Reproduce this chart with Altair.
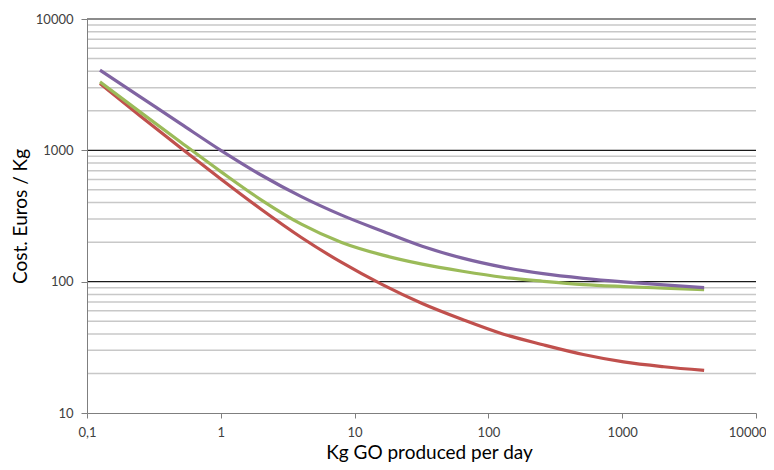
import altair as alt
import pandas as pd

# x positions (Kg GO produced per day)
x_vals = [0.125, 0.25, 0.5, 1, 2, 4, 8, 16, 32, 64, 128, 256, 512, 1024, 2048, 4096]

purple_vals = [4083, 2553, 1596, 1000, 649, 444, 321, 243, 186, 151, 129, 115, 106, 99.5, 94.4, 90.2]
green_vals = [3320, 1955, 1156, 689, 420, 274, 199, 160, 136, 120, 108, 100.7, 95, 91.8, 89.3, 87]
red_vals = [3230, 1828, 1045, 605, 356, 217, 140, 95.3, 68.2, 51.5, 40, 33.1, 27.9, 24.5, 22.5, 21.1]

x_ticks = [0.1, 1, 10, 100, 1000, 10000]
y_ticks = [10, 100, 1000, 10000]
major_grid = [100, 1000, 10000]
minor_grid = [m * d for d in (10, 100, 1000) for m in range(2, 10)]

series_colors = {"purple": "#8064A2", "green": "#9BBB59", "red": "#C0504D"}

FONT = "Lato"

xscale = alt.Scale(type="log", domain=[0.1, 10000], nice=False)
yscale = alt.Scale(type="log", domain=[10, 10000], nice=False)

x_axis = alt.Axis(
    values=x_ticks,
    labelExpr="replace(format(datum.value, '~f'), '.', ',')",
    grid=False,
    domainColor="#7f7f7f",
    tickColor="#7f7f7f",
    tickSize=5,
    labelPadding=8,
    labelFont=FONT,
    labelFontSize=13,
    labelColor="#404040",
    labelAlign={"condition": {"test": "datum.value == 10000", "value": "right"}, "value": "center"},
    labelOffset={"condition": {"test": "datum.value == 10000", "value": 10}, "value": 0},
    title="Kg GO produced per day",
    titleFont=FONT,
    titleFontSize=19,
    titleFontWeight="normal",
    titleColor="#000000",
    titlePadding=4,
    titleX=342,
    zindex=1,
)
y_axis = alt.Axis(
    values=y_ticks,
    format="d",
    grid=False,
    domainColor="#7f7f7f",
    tickColor="#7f7f7f",
    tickSize=6,
    labelPadding=8,
    labelFont=FONT,
    labelFontSize=13,
    labelColor="#404040",
    title="Cost. Euros / Kg",
    titleFont=FONT,
    titleFontSize=19,
    titleFontWeight="normal",
    titleColor="#000000",
    titlePadding=5,
    zindex=1,
)

minor = alt.Chart(pd.DataFrame({"v": minor_grid})).mark_rule(
    color="#c8c8c8", strokeWidth=1.5
).encode(y=alt.Y("v:Q", scale=yscale, axis=y_axis))

major = alt.Chart(pd.DataFrame({"v": major_grid})).mark_rule(
    color="#1a1a1a", strokeWidth=1.2
).encode(y=alt.Y("v:Q", scale=yscale, axis=y_axis))

def line(vals, name):
    df = pd.DataFrame({"x": x_vals, "y": vals})
    return alt.Chart(df).mark_line(
        color=series_colors[name], strokeWidth=3.2, interpolate="monotone"
    ).encode(
        x=alt.X("x:Q", scale=xscale, axis=x_axis),
        y=alt.Y("y:Q", scale=yscale, axis=y_axis),
    )

chart = alt.layer(
    minor,
    major,
    line(red_vals, "red"),
    line(green_vals, "green"),
    line(purple_vals, "purple"),
).properties(
    width=669,
    height=394,
    autosize=alt.AutoSizeParams(type="none"),
    padding={"left": 79, "top": 11, "right": 10, "bottom": 49},
    background="white",
).configure_view(stroke=None)

chart.save("out.html", embed_options={"renderer": "svg", "actions": False})
